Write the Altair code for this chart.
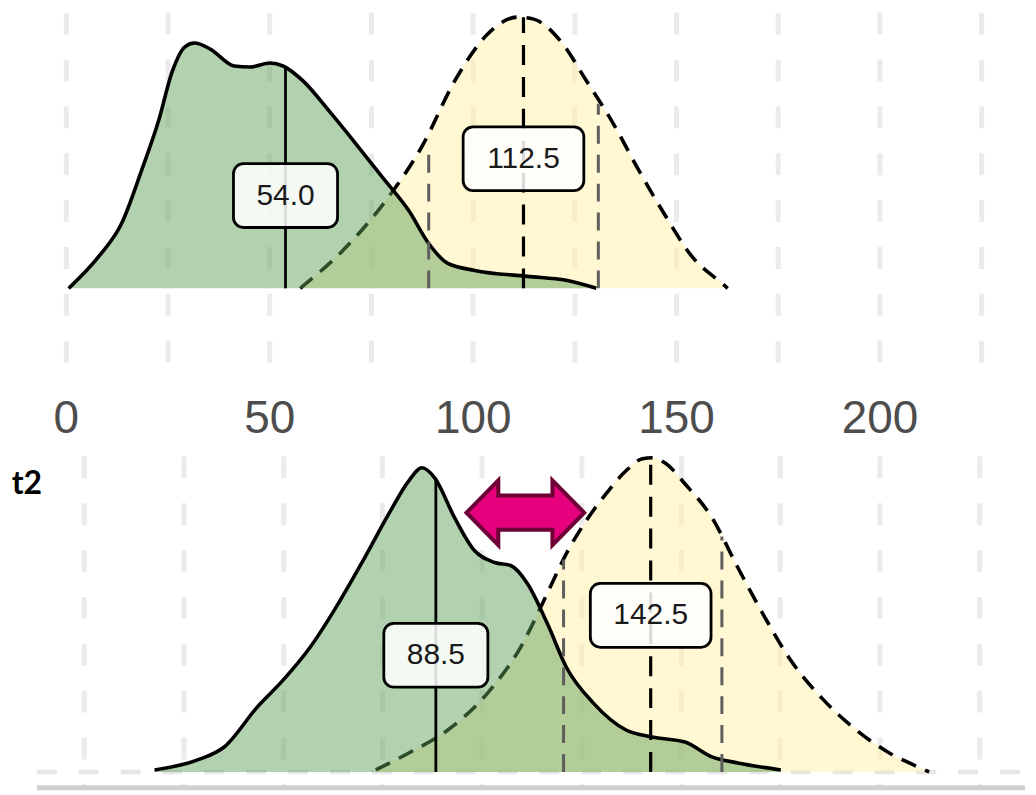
import altair as alt
import pandas as pd

# ---------------- data ----------------
# panel 1 (upper, labelled axis)
t1_ctrl_x = [0.7, 8.1, 13.7, 18.6, 22.8, 26.2, 29.2, 31.6, 35.5, 41.4, 45.3, 50.2, 53.4,
             58.3, 64.7, 71.3, 77.7, 84.3, 89.2, 93.9, 100.5, 113.5, 123.0, 130.4]
t1_ctrl_d = [0.00, 0.32, 0.65, 1.18, 1.68, 2.18, 2.42, 2.46, 2.40, 2.23, 2.22, 2.26, 2.23,
             2.08, 1.78, 1.45, 1.12, 0.78, 0.45, 0.25, 0.18, 0.12, 0.08, 0.00]
t1_trt_x = [57.6, 68.1, 79.4, 87.5, 95.6, 103.7, 111.0, 115.0, 121.6, 128.0, 134.6, 140.9,
            147.5, 153.9, 161.3, 162.7]
t1_trt_d = [0.00, 0.38, 0.92, 1.42, 2.08, 2.55, 2.72, 2.70, 2.48, 2.08, 1.65, 1.18,
            0.72, 0.32, 0.05, 0.00]
t1_medians = [54.0, 112.5]
t1_median_h = [2.23, 2.72]
t1_quart_x = [89.2, 130.9]
t1_quart_h = [1.45, 1.85]
t1_label_y = [0.93, 1.30]

# panel 2 (lower, "t2")
t2_ctrl_x = [17.8, 28.6, 35.3, 43.6, 50.1, 56.9, 63.4, 70.2, 76.7, 81.7, 85.0, 88.2, 93.2,
             98.2, 103.3, 107.3, 111.5, 116.5, 121.3, 128.1, 136.3, 142.9, 151.1, 157.9,
             164.4, 175.2]
t2_ctrl_d = [0.02, 0.12, 0.25, 0.65, 0.92, 1.25, 1.65, 2.12, 2.59, 2.92, 3.05, 2.95, 2.55,
             2.22, 2.10, 2.07, 1.89, 1.49, 1.05, 0.69, 0.42, 0.35, 0.30, 0.15, 0.09, 0.02]
t2_trt_x = [73.4, 81.7, 91.5, 101.5, 109.8, 116.5, 121.3, 126.3, 131.3, 136.3, 140.4, 142.9,
            146.4, 151.1, 157.9, 164.4, 171.2, 177.7, 186.0, 194.2, 202.5, 207.5, 212.5]
t2_trt_d = [0.02, 0.19, 0.42, 0.79, 1.25, 1.79, 2.19, 2.52, 2.79, 3.02, 3.14, 3.15,
            3.09, 2.89, 2.55, 2.05, 1.55, 1.12, 0.72, 0.42, 0.19, 0.09, 0.00]
t2_medians = [88.5, 142.5]
t2_median_h = [2.95, 3.15]
t2_quart_x = [120.6, 160.4]
t2_quart_h = [2.13, 2.36]
t2_label_y = [1.17, 1.57]

tick_values = [0, 25, 50, 75, 100, 125, 150, 175, 200, 225]
facet_label = "t2"
arrow_x = [111.0]
arrow_y = [2.60]

# ---------------- styling ----------------
GREEN = "#5e9e55"
YELLOW = "#fff1a8"
FONT = "Liberation Sans"
W = 1020
ARROW = ("M-1,0 L-0.46,-0.55 L-0.46,-0.29 L0.46,-0.29 L0.46,-0.55 L1,0 "
         "L0.46,0.55 L0.46,0.29 L-0.46,0.29 L-0.46,0.55 Z")


def panel(cx, cd, tx, td, meds, med_h, qx, qh, lab_y, xdom, ydom, height, axis, extra=None):
    ppu = W / (xdom[1] - xdom[0])
    xs = alt.Scale(domain=xdom, nice=False, zero=False)
    ys = alt.Scale(domain=ydom, nice=False, zero=False)

    def X(f):
        return alt.X(f, type="quantitative", scale=xs, axis=axis, title=None)

    def Y(f):
        return alt.Y(f, type="quantitative", scale=ys, axis=None, title=None)

    ctrl = pd.DataFrame({"x": cx, "d": cd})
    trt = pd.DataFrame({"x": tx, "d": td})
    quart = pd.DataFrame({"x": qx, "h": qh, "z": [0.0] * len(qx)})
    med_c = pd.DataFrame({"x": [meds[0]], "h": [med_h[0]], "z": [0.0]})
    med_t = pd.DataFrame({"x": [meds[1]], "h": [med_h[1]], "z": [0.0]})
    labels = pd.DataFrame({"v": meds, "ly": lab_y})
    half_px = [(30 * (0.556 * (len(f"{v:.1f}") - 1) + 0.278) + 46) / 2 for v in meds]
    labels["lo"] = [v - h / ppu for v, h in zip(meds, half_px)]
    labels["hi"] = [v + h / ppu for v, h in zip(meds, half_px)]
    labels["ylo"] = labels["ly"] - 0.32
    labels["yhi"] = labels["ly"] + 0.32

    layers = []
    if extra is not None:
        layers += extra(X, Y)
    layers += [
        alt.Chart(trt).mark_area(color=YELLOW, opacity=0.5, interpolate="monotone")
        .encode(x=X("x"), y=Y("d")),
        alt.Chart(trt).mark_line(color="black", strokeWidth=3.6, strokeDash=[16, 10],
                                 interpolate="monotone")
        .encode(x=X("x"), y=Y("d")),
        alt.Chart(ctrl).mark_area(color=GREEN, opacity=0.48, interpolate="monotone")
        .encode(x=X("x"), y=Y("d")),
        alt.Chart(ctrl).mark_line(color="black", strokeWidth=3.6, interpolate="monotone")
        .encode(x=X("x"), y=Y("d")),
        alt.Chart(quart).mark_rule(color="#5e5e5e", strokeWidth=3, strokeDash=[18, 11])
        .encode(x=X("x"), y=Y("z"), y2="h:Q"),
        alt.Chart(med_t).mark_rule(color="black", strokeWidth=3.2, strokeDash=[20, 12])
        .encode(x=X("x"), y=Y("z"), y2="h:Q"),
        alt.Chart(med_c).mark_rule(color="black", strokeWidth=2.8)
        .encode(x=X("x"), y=Y("z"), y2="h:Q"),
        alt.Chart(labels).mark_rect(cornerRadius=10, fill="white", fillOpacity=0.86,
                                    stroke="black", strokeWidth=2.8)
        .encode(x=X("lo"), x2="hi:Q", y=Y("ylo"), y2="yhi:Q"),
        alt.Chart(labels).mark_text(font=FONT, fontSize=30, color="#1a1a1a")
        .encode(x=X("v"), y=Y("ly"), text=alt.Text("v:Q", format=".1f")),
    ]
    return alt.layer(*layers).properties(width=W, height=height)


# upper panel: 0 at page x 66, 4.08 px per unit
top_axis = alt.Axis(values=tick_values, labelExpr="datum.value % 50 == 0 ? datum.label : ''",
                    grid=True, gridDash=[22, 25], gridColor="#ebebeb", gridWidth=5,
                    ticks=False, domain=False, labelFontSize=46, labelColor="#4d4d4d",
                    labelFont=FONT, labelPadding=22, format="d", title=None)
top_xmin = (8 - 66) / 4.08
top = panel(t1_ctrl_x, t1_ctrl_d, t1_trt_x, t1_trt_d, t1_medians, t1_median_h,
            t1_quart_x, t1_quart_h, t1_label_y, [top_xmin, top_xmin + W / 4.08],
            [-0.87, 2.77], 364, top_axis)

# lower panel: 0 at page x 84, 3.99 px per unit
bot_axis = alt.Axis(values=tick_values, grid=True, gridDash=[22, 25], gridColor="#ebebeb",
                    gridWidth=5, ticks=False, domain=False, labels=False, title=None)
bot_xmin = (8 - 84) / 3.99
bot_xmax = bot_xmin + W / 3.99


def bottom_extras(X, Y):
    base = pd.DataFrame({"x": [(37 - 84) / 3.99], "x2": [bot_xmax], "y0": [0.0], "yb": [-0.16]})
    return [
        alt.Chart(base).mark_rule(color="#e6e6e6", strokeWidth=4.5, strokeDash=[20, 22])
        .encode(x=X("x"), x2="x2:Q", y=Y("y0")),
        alt.Chart(base).mark_rule(color="#cfcfcf", strokeWidth=5)
        .encode(x=X("x"), x2="x2:Q", y=Y("yb")),
    ]


bottom = panel(t2_ctrl_x, t2_ctrl_d, t2_trt_x, t2_trt_d, t2_medians, t2_median_h,
               t2_quart_x, t2_quart_h, t2_label_y, [bot_xmin, bot_xmax],
               [-0.18, 3.17], 335, bot_axis, extra=bottom_extras)

xs_b = alt.Scale(domain=[bot_xmin, bot_xmax], nice=False, zero=False)
ys_b = alt.Scale(domain=[-0.18, 3.17], nice=False, zero=False)
arrow = alt.Chart(pd.DataFrame({"x": arrow_x, "y": arrow_y})).mark_point(
    shape=ARROW, size=118 * 118, filled=True, fill="#e6007e", opacity=1,
    stroke="#6d0035", strokeWidth=4).encode(
    x=alt.X("x:Q", scale=xs_b, axis=bot_axis, title=None),
    y=alt.Y("y:Q", scale=ys_b, axis=None, title=None))
tag = alt.Chart(pd.DataFrame({"x": [(27 - 84) / 3.99], "y": [2.89], "t": [facet_label]})).mark_text(
    font="Lato", fontWeight="bold", fontSize=32, color="black").encode(
    x=alt.X("x:Q", scale=xs_b, axis=bot_axis, title=None),
    y=alt.Y("y:Q", scale=ys_b, axis=None, title=None), text="t:N")

bottom = alt.layer(bottom, arrow, tag)

chart = alt.vconcat(top, bottom, spacing=8).properties(
    padding=0, background="white").configure_view(stroke=None, strokeWidth=0)

chart.save("out.html", embed_options={"renderer": "svg", "actions": False})
